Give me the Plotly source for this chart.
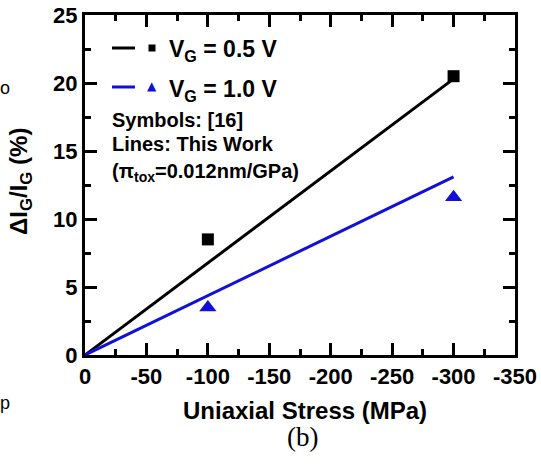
import plotly.graph_objects as go

# ---- data ----
stress_meas = [-100, -300]
dIg_vg05_meas = [8.5, 20.5]
dIg_vg10_meas = [3.5, 11.6]
stress_model = [0, -300]
dIg_vg05_model = [0, 20.3]
dIg_vg10_model = [0, 13.1]

x_ticks = [0, -50, -100, -150, -200, -250, -300, -350]
x_tick_labels = ["0", "-50", "-100", "-150", "-200", "-250", "-300", "-350"]
y_ticks = [0, 5, 10, 15, 20, 25]

BLUE = "#1010d8"
FONT = "Liberation Sans, Arial, sans-serif"

fig = go.Figure()
fig.add_trace(go.Scatter(x=stress_model, y=dIg_vg05_model, mode="lines",
                         line=dict(color="black", width=3), showlegend=False))
fig.add_trace(go.Scatter(x=stress_model, y=dIg_vg10_model, mode="lines",
                         line=dict(color=BLUE, width=3), showlegend=False))
fig.add_trace(go.Scatter(x=stress_meas, y=dIg_vg05_meas, mode="markers",
                         marker=dict(symbol="square", size=12, color="black"), showlegend=False))
fig.add_trace(go.Scatter(x=stress_meas, y=dIg_vg10_meas, mode="markers",
                         marker=dict(symbol="triangle-up", size=15, color=BLUE), showlegend=False))

tickfont = dict(family=FONT, size=22, color="black", weight="bold")

fig.update_xaxes(range=[0, -350], tickvals=x_ticks, ticktext=x_tick_labels,
                 showline=True, linewidth=3, linecolor="black",
                 mirror="ticks", ticks="inside", ticklen=12, tickwidth=2.5, tickcolor="black",
                 minor=dict(ticks="inside", ticklen=6, tickwidth=2.5, tickcolor="black", dtick=25),
                 showgrid=False, zeroline=False, tickfont=tickfont, automargin=False)
fig.update_yaxes(range=[0, 25], tickvals=y_ticks, showline=True, linewidth=3, linecolor="black",
                 mirror="ticks", ticks="inside", ticklen=12, tickwidth=2.5, tickcolor="black",
                 minor=dict(ticks="inside", ticklen=6, tickwidth=2.5, tickcolor="black", dtick=2.5),
                 showgrid=False, zeroline=False, tickfont=tickfont, automargin=False)

def px2x(px):
    return (px - 85) / 430.0

def px2y(py):
    return (355 - py) / 340.0

shapes = []
shapes.append(dict(type="line", xref="paper", yref="paper", x0=px2x(112), x1=px2x(135),
                   y0=px2y(48), y1=px2y(48), line=dict(color="black", width=3)))
shapes.append(dict(type="line", xref="paper", yref="paper", x0=px2x(112), x1=px2x(135),
                   y0=px2y(87), y1=px2y(87), line=dict(color=BLUE, width=3)))
shapes.append(dict(type="rect", xref="paper", yref="paper", x0=px2x(148.5), x1=px2x(155.5),
                   y0=px2y(51.5), y1=px2y(44.5), fillcolor="black", line=dict(width=0)))

ann = []
def txt(text, x, y, size, xanchor="left", yanchor="middle", family=FONT, weight="bold", angle=0, color="black"):
    ann.append(dict(text=text, x=x, y=y, xref="paper", yref="paper", showarrow=False,
                    xanchor=xanchor, yanchor=yanchor, textangle=angle,
                    font=dict(family=family, size=size, color=color, weight=weight)))

txt("▲", px2x(152), px2y(86), 12, xanchor="center", family="DejaVu Sans", weight="normal", color=BLUE)
txt("V<sub>G</sub> = 0.5 V", px2x(167), px2y(51), 23)
txt("V<sub>G</sub> = 1.0 V", px2x(167), px2y(90), 23)
txt("Symbols: [16]", px2x(110), px2y(120), 20)
txt("Lines: This Work", px2x(110), px2y(144), 20)
txt("(π<sub>tox</sub>=0.012nm/GPa)", px2x(110), px2y(172), 20)

txt("Uniaxial Stress (MPa)", px2x(305), px2y(410), 24, xanchor="center")
txt("ΔI<sub>G</sub>/I<sub>G</sub> (%)", px2x(20), px2y(182), 24, xanchor="center", angle=-90)
txt("(b)", px2x(302), px2y(437), 27, xanchor="center",
    family="Liberation Serif, Times New Roman, serif", weight="normal")
txt("o", px2x(-2), px2y(88), 18, xanchor="left", weight="normal")
txt("p", px2x(-2), px2y(403), 18, xanchor="left", weight="normal")

fig.update_layout(width=541, height=465, margin=dict(l=85, r=26, t=15, b=110),
                  plot_bgcolor="white", paper_bgcolor="white",
                  shapes=shapes, annotations=ann, showlegend=False)

fig.write_html("out.html")
